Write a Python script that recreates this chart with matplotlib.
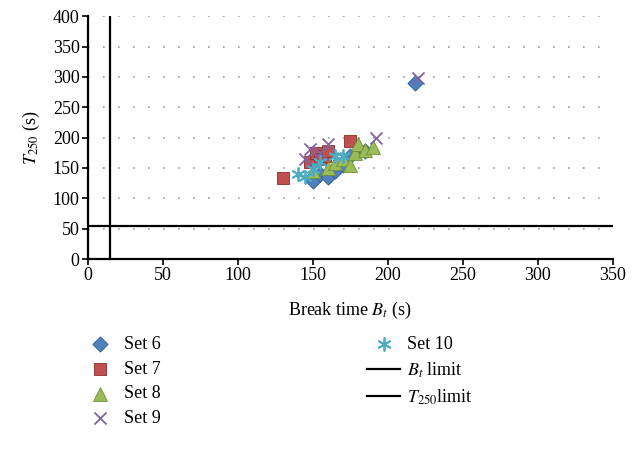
import matplotlib
matplotlib.use("Agg")
import matplotlib.pyplot as plt
from matplotlib.lines import Line2D

plt.rcParams['font.family'] = ['Liberation Serif', 'DejaVu Serif']
plt.rcParams['mathtext.fontset'] = 'stix'

# Break time (s) vs T250 (s) for each test set
set6_x = [150, 155, 160, 165, 170, 175, 185, 218]
set6_y = [128, 140, 135, 145, 155, 170, 178, 290]
set7_x = [130, 148, 152, 155, 158, 160, 175]
set7_y = [133, 160, 175, 165, 170, 178, 195]
set8_x = [150, 160, 165, 170, 175, 178, 180, 185, 190]
set8_y = [145, 150, 158, 165, 155, 175, 190, 180, 185]
set9_x = [145, 148, 155, 160, 192, 220]
set9_y = [165, 182, 175, 190, 200, 298]
set10_x = [140, 145, 150, 155, 165, 170]
set10_y = [140, 135, 148, 160, 170, 170]

bt_limit = 15
t250_limit = 55

x_ticks = [0, 50, 100, 150, 200, 250, 300, 350]
y_ticks = [0, 50, 100, 150, 200, 250, 300, 350, 400]

fig = plt.figure(figsize=(6.4, 4.61), dpi=100)
ax = fig.add_axes([0.1375, 0.438, 0.82, 0.527])

for yv in y_ticks[1:]:
    ax.axhline(yv, color='#9a9a9a', lw=1.2, linestyle=(0, (1, 8)), zorder=0)

ax.scatter(set6_x, set6_y, marker='D', s=60, c='#4F81BD', edgecolors='#2c5a8c', linewidths=0.6, label='Set 6', zorder=3)
ax.scatter(set7_x, set7_y, marker='s', s=85, c='#C0504D', edgecolors='#8c2a28', linewidths=0.6, label='Set 7', zorder=3)
ax.scatter(set8_x, set8_y, marker='^', s=100, c='#9BBB59', edgecolors='#6f8f35', linewidths=0.6, label='Set 8', zorder=3)
ax.scatter(set9_x, set9_y, marker='x', s=75, c='#8064A2', linewidths=1.3, label='Set 9', zorder=3)
ax.scatter(set10_x, set10_y, marker=(6, 2, 0), s=85, c='#4BACC6', linewidths=1.3, label='Set 10', zorder=3)

ax.axvline(bt_limit, color='black', lw=1.6, zorder=2)
ax.axhline(t250_limit, color='black', lw=1.6, zorder=2)

ax.set_xlim(0, 350)
ax.set_ylim(0, 400)
ax.set_xticks(x_ticks)
ax.set_yticks(y_ticks)
ax.spines['top'].set_visible(False)
ax.spines['right'].set_visible(False)
ax.spines['left'].set_linewidth(1.6)
ax.spines['bottom'].set_linewidth(1.6)
ax.tick_params(direction='out', length=4, width=1.2, labelsize=13, pad=2)
ax.set_xlabel('Break time $B_t$ (s)', fontsize=13, labelpad=11)
ax.set_ylabel('$T_{250}$ (s)', fontsize=13, labelpad=8)

handles, labels = ax.get_legend_handles_labels()
handles += [Line2D([], [], color='black', lw=1.6), Line2D([], [], color='black', lw=1.6)]
labels += ['$B_t$ limit', '$T_{250}$limit']
fig.legend(handles, labels, ncol=2, loc='upper left', bbox_to_anchor=(0.106, 0.306),
           frameon=False, fontsize=13, handlelength=1.8, columnspacing=11.45,
           labelspacing=0.42, handletextpad=0.4)

fig.savefig('out.png', dpi=100)
